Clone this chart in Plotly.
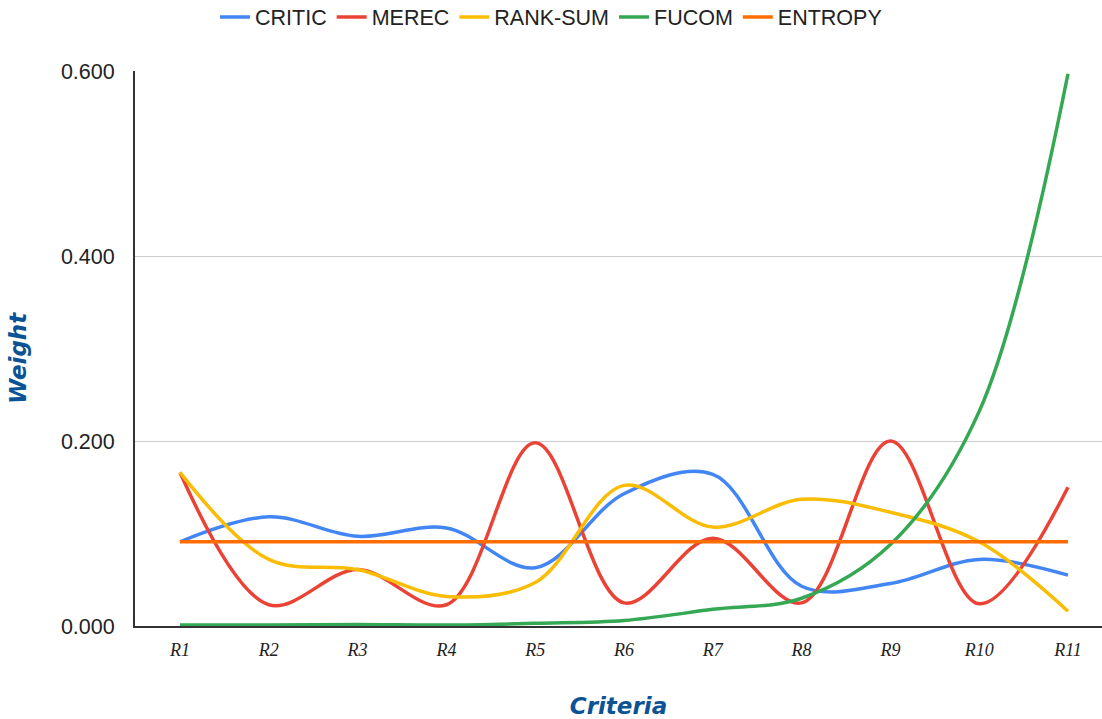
import plotly.graph_objects as go

categories = ["R1", "R2", "R3", "R4", "R5", "R6", "R7", "R8", "R9", "R10", "R11"]
critic = [0.091, 0.118, 0.097, 0.106, 0.063, 0.143, 0.164, 0.043, 0.046, 0.072, 0.055]
merec = [0.166, 0.023, 0.061, 0.023, 0.198, 0.025, 0.095, 0.025, 0.200, 0.024, 0.150]
rank_sum = [0.166, 0.072, 0.061, 0.032, 0.047, 0.152, 0.107, 0.137, 0.123, 0.091, 0.016]
fucom = [0.001, 0.001, 0.0015, 0.001, 0.003, 0.006, 0.018, 0.030, 0.088, 0.232, 0.597]
entropy = [0.091, 0.091, 0.091, 0.091, 0.091, 0.091, 0.091, 0.091, 0.091, 0.091, 0.091]

series = [
    ("CRITIC", critic, "#4285f4"),
    ("MEREC", merec, "#ea4335"),
    ("RANK-SUM", rank_sum, "#fbbc04"),
    ("FUCOM", fucom, "#34a853"),
    ("ENTROPY", entropy, "#ff6d01"),
]

fig = go.Figure()
for name, vals, color in series:
    fig.add_trace(go.Scatter(
        x=categories, y=vals, name=name, mode="lines",
        line=dict(color=color, width=3.5, shape="spline", smoothing=1.0),
    ))

title_font = dict(family="DejaVu Sans, sans-serif", size=23, color="#0b5394",
                  weight="bold", style="italic")

fig.update_layout(
    width=1102, height=719,
    margin=dict(l=135, r=0, t=71, b=93),
    paper_bgcolor="white", plot_bgcolor="white",
    font=dict(family="Liberation Sans, Arial, sans-serif", color="#222222"),
    legend=dict(orientation="h", x=0.5, xanchor="center", xref="container",
                y=1 - 17 / 719, yanchor="middle", yref="container",
                font=dict(size=21.5, color="#222222"),
                itemwidth=30, traceorder="normal"),
    showlegend=True,
)

fig.add_annotation(text="Weight", textangle=-90, xref="paper", yref="paper",
                   x=-(135 - 18) / 967, y=(626 - 358) / 555, xanchor="center", yanchor="middle",
                   showarrow=False, font=title_font)

fig.update_xaxes(
    type="category",
    range=[-0.507, 10.383],
    showgrid=False,
    showline=True, linecolor="#333333", linewidth=2,
    ticks="", ticklabelstandoff=6,
    tickfont=dict(family="Liberation Serif, serif", size=18, color="#222222", style="italic"),
    title=dict(text="Criteria", standoff=40, font=title_font),
)
fig.update_yaxes(
    range=[0, 0.6],
    tickvals=[0, 0.2, 0.4, 0.6],
    tickformat=".3f",
    showgrid=True, gridcolor="#cccccc", gridwidth=1,
    showline=True, linecolor="#333333", linewidth=2,
    zeroline=False,
    ticks="", ticklabelstandoff=14,
    tickfont=dict(size=21.5, color="#222222"),
)

fig.write_html("out.html")
